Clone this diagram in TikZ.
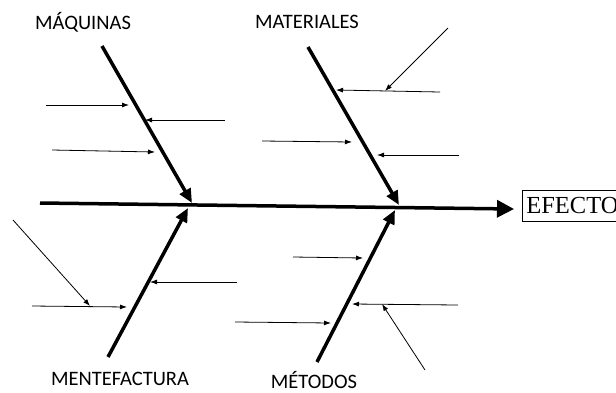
\documentclass[tikz,border=0pt]{standalone}
\usepackage{fontspec}
\newfontfamily\labelfont{Carlito}
\newfontfamily\efont{Liberation Serif}
\usetikzlibrary{arrows.meta}
\begin{document}
\begin{tikzpicture}[x=1pt,y=-1pt,
  spine/.style={line width=3.5pt,-{Triangle[length=17pt,width=17pt]}},
  bone/.style={line width=3.5pt,-{Triangle[length=14pt,width=12pt]}},
  sub/.style={line width=0.8pt,-{Latex[length=7pt,width=5pt]}},
  cat/.style={font=\labelfont\fontsize{20.5}{20.5}\selectfont,inner sep=0pt}]
\useasboundingbox (0,0) rectangle (616,392);
% labels
\node[cat] (maq) at (83,22) {MÁQUINAS};
\node[cat] (mat) at (307,22) {MATERIALES};
\node[cat] (men) at (120,379) {MENTEFACTURA};
\node[cat] (met) at (314,380) {MÉTODOS};
\node[draw,line width=0.7pt,anchor=north west,inner xsep=4pt,inner ysep=0pt,
  text height=23pt,text depth=8pt,text width=104pt,
  font=\efont\fontsize{24.5}{24.5}\selectfont] (efecto) at (522,190) {EFECTO};
% spine
\coordinate (s0) at (40,203);
\coordinate (s1) at (514,209);
\draw[spine] (s0) -- (s1);
% bones
\coordinate (b1s) at (102,46); \coordinate (b1t) at (192,203);
\coordinate (b2s) at (308,47); \coordinate (b2t) at (399,205);
\coordinate (b3s) at (108,357); \coordinate (b3t) at (188,208);
\coordinate (b4s) at (317,362); \coordinate (b4t) at (395,210);
\draw[bone] (b1s) -- (b1t);
\draw[bone] (b2s) -- (b2t);
\draw[bone] (b3s) -- (b3t);
\draw[bone] (b4s) -- (b4t);
% sub causes: MAQUINAS
\coordinate (a1s) at (46,105); \coordinate (a1t) at (129,105);
\coordinate (a2s) at (225,120); \coordinate (a2t) at (145,120);
\coordinate (a3s) at (52,150); \coordinate (a3t) at (155,152);
\draw[sub] (a1s) -- (a1t);
\draw[sub] (a2s) -- (a2t);
\draw[sub] (a3s) -- (a3t);
% MATERIALES
\coordinate (c1s) at (440,92); \coordinate (c1t) at (336,90);
\coordinate (c2s) at (448,28); \coordinate (c2t) at (385,91);
\coordinate (c3s) at (262,141); \coordinate (c3t) at (352,142);
\coordinate (c4s) at (459,155); \coordinate (c4t) at (377,155);
\draw[sub] (c1s) -- (c1t);
\draw[sub] (c2s) -- (c2t);
\draw[sub] (c3s) -- (c3t);
\draw[sub] (c4s) -- (c4t);
% MENTEFACTURA
\coordinate (d1s) at (13,220); \coordinate (d1t) at (90,306);
\coordinate (d2s) at (32,306); \coordinate (d2t) at (127,307);
\coordinate (d3s) at (237,282); \coordinate (d3t) at (150,282);
\draw[sub] (d1s) -- (d1t);
\draw[sub] (d2s) -- (d2t);
\draw[sub] (d3s) -- (d3t);
% METODOS
\coordinate (e1s) at (293,257); \coordinate (e1t) at (363,258);
\coordinate (e2s) at (235,322); \coordinate (e2t) at (331,323);
\coordinate (e3s) at (458,305); \coordinate (e3t) at (352,304);
\coordinate (e4s) at (425,370); \coordinate (e4t) at (382,304);
\draw[sub] (e1s) -- (e1t);
\draw[sub] (e2s) -- (e2t);
\draw[sub] (e3s) -- (e3t);
\draw[sub] (e4s) -- (e4t);
\end{tikzpicture}
\end{document}
